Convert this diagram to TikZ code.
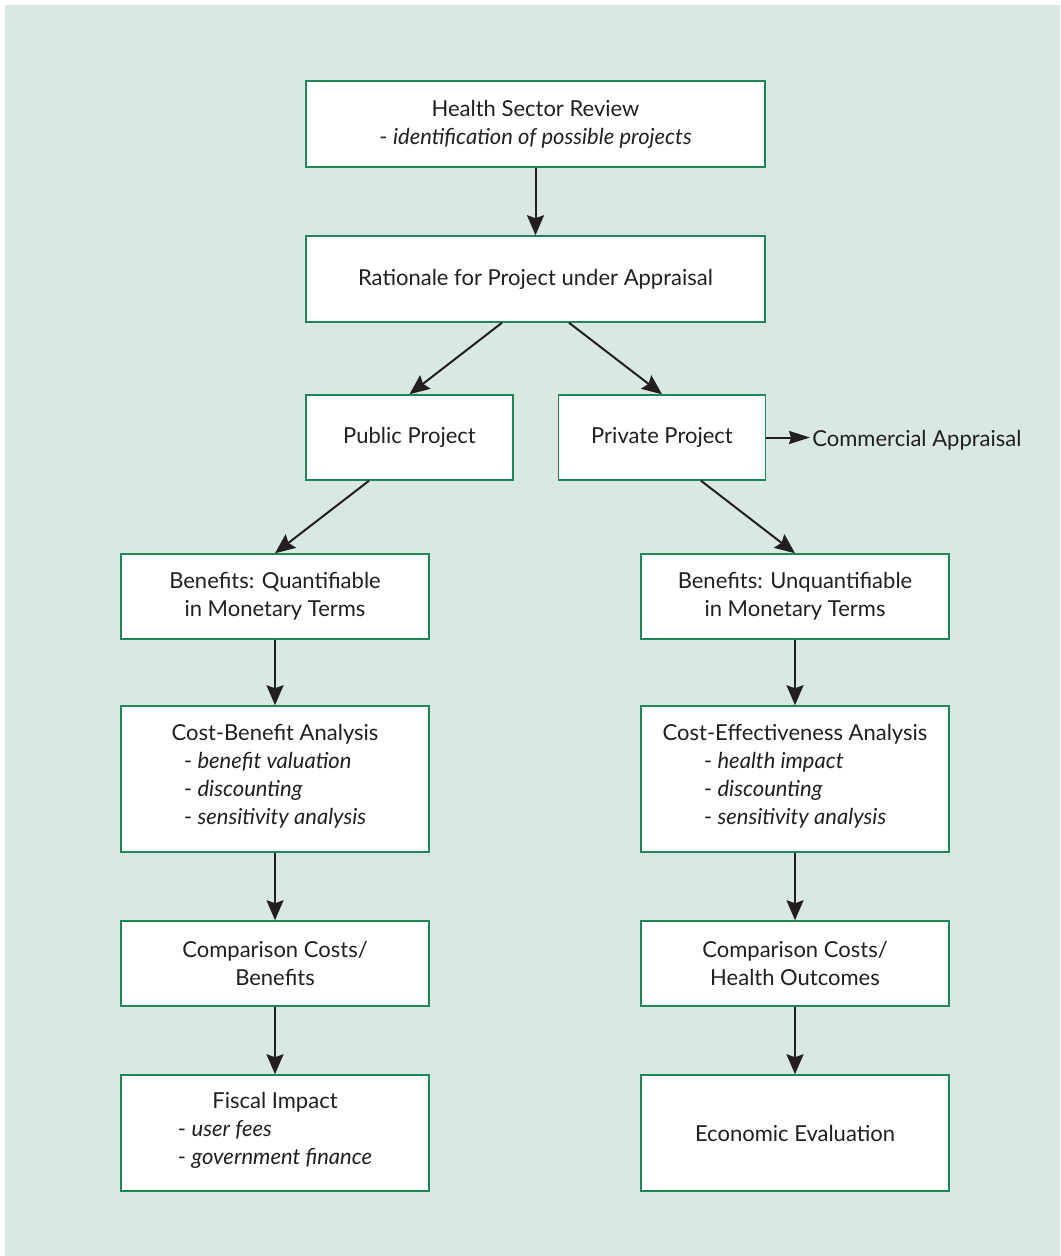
\documentclass[tikz,border=0pt]{standalone}
\usepackage{fontspec}
\setmainfont{Lato}
\usetikzlibrary{calc,arrows.meta}
\definecolor{bggreen}{RGB}{217,232,224}
\definecolor{boxgreen}{RGB}{30,135,90}
\definecolor{inkgrey}{RGB}{35,31,32}
\newcommand{\dashlist}[1]{\begin{tabular}[t]{@{}l@{}}#1\end{tabular}}

\begin{document}
\begin{tikzpicture}[x=0.5pt,y=-0.5pt,
  txt/.style={text=inkgrey, font=\fontsize{11pt}{14pt}\selectfont},
  box/.style={txt, draw=boxgreen, line width=0.75pt, fill=white, align=center, inner sep=0pt},
  wide/.style={box, minimum width=229.5pt, minimum height=43pt},
  mid/.style={box, minimum width=103.5pt, minimum height=42.5pt},
  col/.style={box, minimum width=154pt},
  flow/.style={draw=inkgrey, line width=1pt, -{Stealth[length=10pt,width=8.5pt,inset=1.5pt]}},
  side/.style={flow, -{Stealth[length=10.5pt,width=6.5pt,inset=1pt]}}
]
\useasboundingbox (0,0) rectangle (1060,1256);
%background
\fill[bggreen] (5,5) rectangle (1060,1256);

%top
\node[wide] (review) at (535.5,124) {Health Sector Review\\- \textit{identification of possible projects}};
\node[wide] (rationale) at (535.5,279) {Rationale for Project under Appraisal};
\node[mid] (public) at (409.5,437.5) {Public Project};
\node[mid] (private) at (662,437.5) {Private Project};
\node[txt, anchor=base west, inner sep=1pt] (commercial) at (810,446) {Commercial Appraisal};

%left column
\node[col, minimum height=42.5pt] (benq) at (275,596.5) {Benefits: Quantifiable\\in Monetary Terms};
\node[col, minimum height=73pt] (cba) at (275,779) {Cost-Benefit Analysis\\\dashlist{- \textit{benefit valuation}\\- \textit{discounting}\\- \textit{sensitivity analysis}}};
\node[col, minimum height=42.5pt] (cmpb) at (275,963.5) {Comparison Costs/\\Benefits};
\node[col, minimum height=58pt] (fiscal) at (275,1133) {Fiscal Impact\\\dashlist{- \textit{user fees}\\- \textit{government finance}}};

%right column
\node[col, minimum height=42.5pt] (benu) at (795,596.5) {Benefits: Unquantifiable\\in Monetary Terms};
\node[col, minimum height=73pt] (cea) at (795,779) {Cost-Effectiveness Analysis\\\dashlist{- \textit{health impact}\\- \textit{discounting}\\- \textit{sensitivity analysis}}};
\node[col, minimum height=42.5pt] (cmph) at (795,963.5) {Comparison Costs/\\Health Outcomes};
\node[col, minimum height=58pt] (econ) at (795,1133) {Economic Evaluation};

%arrows
\draw[flow] (review) -- (rationale);
\draw[flow] ($(rationale.south)+(-33.5,0)$) -- (public.north);
\draw[flow] ($(rationale.south)+(33.5,0)$) -- (private.north);
\draw[side] (private.east) -- (private.east -| commercial.west);
\draw[flow] ($(public.south)+(-40.5,0)$) -- (benq.north);
\draw[flow] ($(private.south)+(39,0)$) -- (benu.north);
\draw[flow] (benq) -- (cba);
\draw[flow] (cba) -- (cmpb);
\draw[flow] (cmpb) -- (fiscal);
\draw[flow] (benu) -- (cea);
\draw[flow] (cea) -- (cmph);
\draw[flow] (cmph) -- (econ);

\end{tikzpicture}
\end{document}
